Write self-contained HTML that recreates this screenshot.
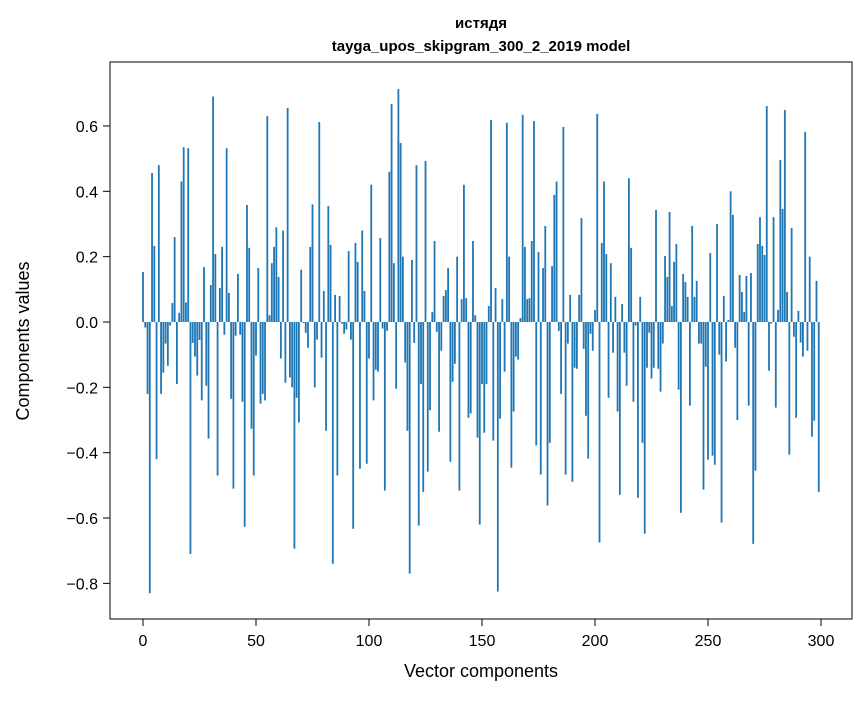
<!DOCTYPE html>
<html><head><meta charset="utf-8"><style>
body{margin:0;background:#fff}
text{font-family:"Liberation Sans","DejaVu Sans",sans-serif}
</style></head><body>
<svg id="chart" width="867" height="696" xmlns="http://www.w3.org/2000/svg">
<rect width="867" height="696" fill="#fff"/>
<text x="481" y="28" text-anchor="middle" font-size="15" font-weight="bold">истядя</text>
<text x="481" y="51" text-anchor="middle" font-size="15" font-weight="bold">tayga_upos_skipgram_300_2_2019 model</text>
<g id="bars"></g>
<g id="axes"></g>
<rect x="110" y="62" width="742" height="557" fill="none" stroke="#000" stroke-width="1"/>
<text x="481" y="677" text-anchor="middle" font-size="18">Vector components</text>
<text transform="translate(29,341) rotate(-90)" text-anchor="middle" font-size="18">Components values</text>
</svg>
<script>
const values = [
0.153,-0.017,-0.22,-0.83,0.456,0.233,-0.42,0.48,-0.22,-0.155,
-0.066,-0.134,-0.011,0.058,0.26,-0.19,0.028,0.43,0.535,0.06,
0.532,-0.71,-0.064,-0.106,-0.164,-0.055,-0.24,0.168,-0.195,-0.357,
0.113,0.69,0.208,-0.47,0.104,0.23,-0.039,0.532,0.089,-0.235,
-0.51,-0.042,0.147,-0.039,-0.244,-0.627,0.358,0.227,-0.327,-0.47,
-0.103,0.165,-0.25,-0.22,-0.24,0.63,0.021,0.18,0.23,0.29,
0.138,-0.112,0.28,-0.186,0.655,-0.17,-0.2,-0.694,-0.232,-0.308,
0.16,-0.003,-0.033,-0.079,0.23,0.36,-0.2,-0.054,0.612,-0.109,
0.095,-0.333,0.355,0.236,-0.74,0.083,-0.47,0.08,-0.005,-0.036,
-0.023,0.217,-0.054,-0.633,0.242,0.184,-0.449,0.28,0.095,-0.434,
-0.112,0.42,-0.24,-0.146,-0.152,0.257,-0.02,-0.516,-0.027,0.46,
0.667,0.18,-0.204,0.713,0.548,0.2,-0.124,-0.333,-0.77,0.19,
-0.064,0.48,-0.623,-0.19,-0.52,0.493,-0.458,-0.27,0.03,0.248,
-0.03,-0.336,-0.088,0.08,0.098,0.165,-0.428,-0.183,-0.128,0.2,
-0.516,0.07,0.42,0.073,-0.293,-0.28,0.248,0.021,-0.354,-0.62,
-0.19,-0.339,-0.19,0.049,0.618,-0.363,0.104,-0.825,-0.296,0.07,
-0.152,0.61,0.2,-0.446,-0.274,-0.106,-0.115,0.012,0.634,0.23,
0.07,0.073,0.248,0.615,-0.378,0.214,-0.467,0.165,0.294,-0.562,
-0.37,0.171,0.389,0.43,-0.027,-0.22,0.597,-0.467,-0.066,0.083,
-0.489,-0.14,-0.143,0.083,0.318,-0.082,-0.287,-0.418,-0.036,-0.088,
0.037,0.637,-0.675,0.242,0.43,0.208,-0.232,0.18,-0.094,0.077,
-0.274,-0.529,0.055,-0.094,-0.195,0.44,0.227,-0.244,-0.011,-0.538,
0.077,-0.37,-0.648,-0.14,-0.033,-0.173,-0.14,0.343,-0.143,-0.213,
-0.066,0.202,0.138,0.337,0.049,0.184,0.239,-0.207,-0.584,0.147,
0.122,0.077,-0.256,0.294,0.077,0.126,-0.066,-0.066,-0.513,-0.137,
-0.421,0.211,-0.409,-0.437,0.3,-0.1,-0.614,0.08,-0.121,0.006,
0.4,0.328,-0.079,-0.3,0.144,0.092,0.031,0.141,-0.256,0.15,
-0.679,-0.455,0.239,0.321,0.233,0.205,0.661,-0.149,-0.005,0.321,
-0.262,0.037,0.496,0.346,0.649,0.092,-0.406,0.288,-0.045,-0.293,
0.034,-0.063,-0.106,0.582,-0.088,0.2,-0.351,-0.302,0.126,-0.52
];
const xTicks = [0,50,100,150,200,250,300];
const yTicks = [-0.8,-0.6,-0.4,-0.2,0.0,0.2,0.4,0.6];
const yTickLabels = ["\u22120.8","\u22120.6","\u22120.4","\u22120.2","0.0","0.2","0.4","0.6"];

const NS="http://www.w3.org/2000/svg";
const xs = v => 143 + 2.26*v;
const ys = v => 322 - 326.7*v;
const bars=document.getElementById('bars');
values.forEach((v,i)=>{
  const r=document.createElementNS(NS,'rect');
  
  
  const y0=ys(0), y1=ys(v);
  r.setAttribute('x',xs(i-0.4));
  r.setAttribute('width',2.26*0.8);
  r.setAttribute('y',Math.min(y0,y1));
  r.setAttribute('height',Math.abs(y1-y0));
  r.setAttribute('fill','#1f77b4');
  bars.appendChild(r);
});
const axes=document.getElementById('axes');
xTicks.forEach(t=>{
  const l=document.createElementNS(NS,'line');
  
  
  l.setAttribute('x1',xs(t));l.setAttribute('x2',xs(t));
  l.setAttribute('y1',619);l.setAttribute('y2',626);
  l.setAttribute('stroke','#000');
  axes.appendChild(l);
  const tx=document.createElementNS(NS,'text');
  
  
  tx.setAttribute('x',xs(t));tx.setAttribute('y',646);
  tx.setAttribute('text-anchor','middle');tx.setAttribute('font-size','16');
  tx.textContent=t;
  axes.appendChild(tx);
});
yTicks.forEach((t,k)=>{
  const l=document.createElementNS(NS,'line');
  
  
  l.setAttribute('x1',103);l.setAttribute('x2',110);
  l.setAttribute('y1',ys(t));l.setAttribute('y2',ys(t));
  l.setAttribute('stroke','#000');
  axes.appendChild(l);
  const tx=document.createElementNS(NS,'text');
  
  
  tx.setAttribute('x',98);tx.setAttribute('y',ys(t)+6);
  tx.setAttribute('text-anchor','end');tx.setAttribute('font-size','16');
  tx.textContent=yTickLabels[k];
  axes.appendChild(tx);
});
</script>
</body></html>
